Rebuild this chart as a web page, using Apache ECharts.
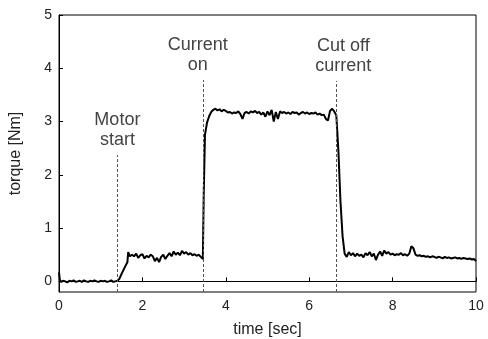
<!DOCTYPE html>
<html>
<head>
<meta charset="utf-8">
<script src="https://cdn.jsdelivr.net/npm/echarts@6/dist/echarts.min.js"></script>
<style>
html,body{margin:0;padding:0;background:#fff;}
#chart{width:488px;height:339px;}
</style>
</head>
<body>
<div id="chart"></div>
<script>
// torque trace: [time (s), torque (Nm)]
const torqueTrace = [
[0.00,0.17],[0.02,0.03],[0.05,-0.01],[0.10,0.01],[0.15,0.00],[0.20,-0.02],[0.25,0.01],[0.30,0.00],[0.35,0.02],[0.40,-0.01],
[0.45,0.00],[0.50,0.01],[0.55,-0.01],[0.60,0.02],[0.65,0.00],[0.70,-0.01],[0.75,0.01],[0.80,0.00],[0.85,0.02],[0.90,0.00],
[0.95,-0.01],[1.00,0.01],[1.05,0.00],[1.10,0.01],[1.15,-0.01],[1.20,0.00],[1.25,0.02],[1.30,-0.01],[1.35,0.00],[1.40,0.01],
[1.45,0.05],[1.50,0.14],[1.55,0.22],[1.60,0.30],[1.64,0.36],[1.66,0.55],[1.70,0.47],
[1.75,0.50],[1.80,0.47],[1.85,0.52],[1.90,0.44],[1.95,0.49],[2.00,0.51],[2.05,0.43],[2.10,0.48],[2.15,0.45],[2.20,0.50],
[2.25,0.47],[2.30,0.38],[2.35,0.44],[2.40,0.36],[2.45,0.46],[2.50,0.50],[2.55,0.42],[2.60,0.48],[2.65,0.53],[2.70,0.47],
[2.75,0.56],[2.80,0.50],[2.85,0.54],[2.90,0.49],[2.95,0.57],[3.00,0.52],[3.05,0.55],[3.10,0.50],[3.15,0.53],[3.20,0.49],
[3.25,0.51],[3.30,0.48],[3.35,0.50],[3.40,0.46],[3.45,0.42],
[3.47,1.60],[3.50,2.75],[3.55,2.98],[3.60,3.10],[3.65,3.18],[3.70,3.22],
[3.75,3.24],[3.80,3.21],[3.85,3.23],[3.90,3.19],[3.95,3.22],[4.00,3.20],[4.05,3.17],[4.10,3.18],[4.15,3.15],[4.20,3.17],
[4.25,3.16],[4.30,3.19],[4.35,3.14],[4.40,3.05],[4.45,3.16],[4.50,3.18],[4.55,3.15],[4.60,3.19],[4.65,3.17],[4.70,3.20],
[4.75,3.16],[4.80,3.18],[4.85,3.13],[4.90,3.17],[4.95,3.09],[5.00,3.19],[5.05,3.12],[5.10,3.22],[5.15,3.00],[5.20,3.18],
[5.25,3.05],[5.30,3.19],[5.35,3.16],[5.40,3.18],[5.45,3.15],[5.50,3.17],[5.55,3.14],[5.60,3.18],[5.65,3.16],[5.70,3.17],
[5.75,3.13],[5.80,3.16],[5.85,3.18],[5.90,3.15],[5.95,3.17],[6.00,3.14],[6.05,3.16],[6.10,3.15],[6.15,3.17],[6.20,3.13],
[6.25,3.15],[6.30,3.12],[6.35,3.13],[6.40,3.05],[6.45,3.02],
[6.50,3.20],[6.55,3.24],[6.60,3.19],[6.65,3.12],[6.70,2.45],[6.75,1.50],[6.80,0.85],[6.85,0.52],[6.90,0.46],
[6.95,0.55],[7.00,0.49],[7.05,0.53],[7.10,0.47],[7.15,0.52],[7.20,0.48],[7.25,0.50],[7.30,0.45],[7.35,0.53],[7.40,0.49],
[7.45,0.55],[7.50,0.47],[7.55,0.52],[7.60,0.40],[7.65,0.50],[7.70,0.56],[7.75,0.48],[7.80,0.58],[7.85,0.52],[7.90,0.55],
[7.95,0.50],[8.00,0.52],[8.05,0.49],[8.10,0.51],[8.15,0.50],[8.20,0.53],[8.25,0.49],[8.30,0.51],[8.35,0.48],[8.40,0.52],
[8.45,0.66],[8.50,0.62],[8.55,0.50],[8.60,0.48],[8.65,0.49],[8.70,0.47],[8.75,0.48],[8.80,0.46],[8.85,0.47],[8.90,0.45],
[8.95,0.47],[9.00,0.46],[9.05,0.44],[9.10,0.46],[9.15,0.45],[9.20,0.43],[9.25,0.46],[9.30,0.44],[9.35,0.45],[9.40,0.43],
[9.45,0.44],[9.50,0.45],[9.55,0.43],[9.60,0.44],[9.65,0.42],[9.70,0.44],[9.75,0.43],[9.80,0.42],[9.85,0.43],[9.90,0.41],
[9.95,0.42],[10.00,0.38]
];

// event markers
const eventNames = ['Motor\nstart', 'Current\non', 'Cut off\ncurrent'];
const eventTimes = [1.4, 3.45, 6.65];
const eventTops = [2.37, 3.78, 3.76];
const eventLabelShift = [0, -5, 7];

const yTicks = [0, 1, 2, 3, 4, 5];

const FONT = 'Liberation Sans, Arial, sans-serif';
const chart = echarts.init(document.getElementById('chart'), null, {renderer: 'canvas'});

const markData = eventTimes.map((t, i) => [
  {coord: [t, -0.2], label: {offset: [eventLabelShift[i], 0]}},
  {coord: [t, eventTops[i]], name: eventNames[i]}
]);

chart.setOption({
  animation: false,
  grid: {left: 59, right: 12, top: 15, bottom: 47, outerBoundsMode: 'none', containLabel: false,
         show: true, borderColor: '#000', borderWidth: 1, backgroundColor: 'transparent'},
  xAxis: {
    type: 'value', min: 0, max: 10, interval: 2,
    name: 'time [sec]', nameLocation: 'middle', nameGap: 30,
    nameTextStyle: {fontFamily: FONT, fontSize: 16, color: '#222'},
    axisLine: {show: true, lineStyle: {color: '#000', width: 1}},
    axisTick: {show: true, inside: true, length: 4, lineStyle: {color: '#000'}},
    axisLabel: {fontFamily: FONT, fontSize: 14, color: '#222', margin: 7},
    splitLine: {show: false}
  },
  yAxis: {
    type: 'value', min: -0.2, max: 5,
    name: 'torque [Nm]', nameLocation: 'middle', nameGap: 35,
    nameTextStyle: {fontFamily: FONT, fontSize: 16, color: '#222'},
    axisLine: {show: true, lineStyle: {color: '#000', width: 1}},
    axisTick: {show: true, inside: true, length: 4, customValues: yTicks, lineStyle: {color: '#000'}},
    axisLabel: {fontFamily: FONT, fontSize: 14, color: '#222', margin: 7, customValues: yTicks},
    splitLine: {show: false}
  },
  series: [{
    type: 'line',
    data: torqueTrace,
    showSymbol: false,
    lineStyle: {color: '#000', width: 2},
    z: 3,
    markLine: {
      silent: true,
      symbol: ['none', 'none'],
      lineStyle: {type: [3, 2], color: '#555', width: 1},
      label: {
        show: true, position: 'end', formatter: p => p.name || '',
        fontFamily: FONT, fontSize: 18, lineHeight: 20, color: '#444', distance: 5
      },
      data: markData
    }
  }]
});
</script>
</body>
</html>
